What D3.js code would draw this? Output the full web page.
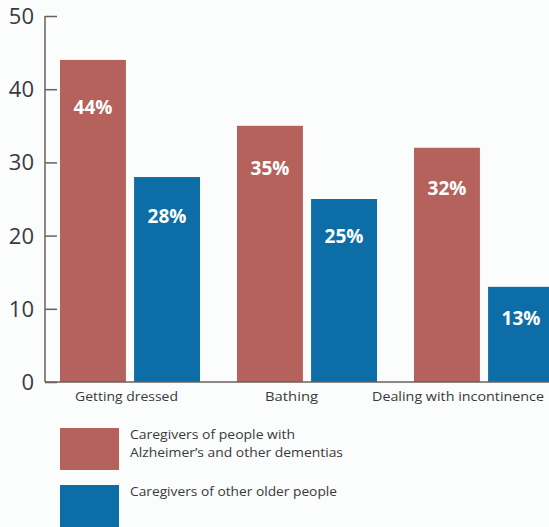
<!DOCTYPE html>
<html>
<head>
<meta charset="utf-8">
<script src="https://cdn.jsdelivr.net/npm/d3@7"></script>
<style>
  html, body { margin: 0; padding: 0; background: #fbfcfc; }
  svg { display: block; }
</style>
</head>
<body>
<script>
// Share of caregivers helping with each activity (%)
const categories = ["Getting dressed", "Bathing", "Dealing with incontinence"];
const dementiaCare = [44, 35, 32];
const otherCare = [28, 25, 13];
const yTicks = [0, 10, 20, 30, 40, 50];
const seriesNames = ["Caregivers of people with|Alzheimer\u2019s and other dementias", "Caregivers of other older people"];
const seriesColors = ["#b4625b", "#0d6ea7"];

const W = 549, H = 527;
const svg = d3.select("body").append("svg").attr("width", W).attr("height", H);
const font = "'Open Sans', 'DejaVu Sans', sans-serif";
const ink = "#3a3a3a";

const axisX = 45;
const y = d3.scaleLinear().domain([0, 50]).range([382, 16]);
const x0 = d3.scaleBand().domain(categories).range([60, 591]);
const x1 = d3.scaleBand().domain([0, 1]).range([0, 140]).paddingInner(0.11);

// y axis, ticks pointing into the plot
const yAxis = d3.axisRight(y).tickValues(yTicks).tickSize(12).tickFormat("");
const ya = svg.append("g").attr("transform", `translate(${axisX},0)`).call(yAxis);
ya.select(".domain").remove();
ya.selectAll(".tick line").attr("stroke", "#6a605b").attr("stroke-width", 1.5);
svg.append("line").attr("x1", axisX).attr("x2", axisX).attr("y1", y(50)).attr("y2", y(0))
  .attr("stroke", "#6a605b").attr("stroke-width", 1.5);

svg.append("g").selectAll("text").data(yTicks).join("text")
  .attr("x", 34).attr("y", d => y(d)).attr("dy", "0.36em")
  .attr("text-anchor", "end").attr("font-family", font).attr("font-size", 22)
  .attr("fill", ink).text(d => d);

// bars
const rows = categories.map((c, i) => ({ c, vals: [dementiaCare[i], otherCare[i]] }));
const groups = svg.append("g").selectAll("g").data(rows).join("g")
  .attr("transform", d => `translate(${x0(d.c)},0)`);

groups.selectAll("rect").data(d => d.vals.map((v, k) => ({ v, k }))).join("rect")
  .attr("x", d => x1(d.k)).attr("width", x1.bandwidth())
  .attr("y", d => y(d.v)).attr("height", d => y(0) - y(d.v))
  .attr("fill", d => seriesColors[d.k]);

// value labels inside the bar tops; taller bars carry the label a little lower
groups.selectAll("text.val").data(d => d.vals.map((v, k) => ({ v, k }))).join("text")
  .attr("class", "val")
  .attr("x", d => x1(d.k) + x1.bandwidth() / 2)
  .attr("y", d => y(d.v) + 25 + d.v * 0.5).attr("dy", "0.35em")
  .attr("text-anchor", "middle").attr("font-family", font).attr("font-weight", "bold")
  .attr("font-size", 19).attr("fill", "#ffffff").text(d => d.v + "%");

// baseline
svg.append("line").attr("x1", axisX).attr("x2", W).attr("y1", y(0)).attr("y2", y(0))
  .attr("stroke", "#6a605b").attr("stroke-width", 1.5);

// category labels
const catLabelX = [75, 265, 372];
const catLabelW = [103, 53, 172];
svg.append("g").selectAll("text").data(categories).join("text")
  .attr("x", (c, i) => catLabelX[i]).attr("y", 401)
  .attr("textLength", (c, i) => catLabelW[i]).attr("lengthAdjust", "spacingAndGlyphs")
  .attr("font-family", font).attr("font-size", 13)
  .attr("fill", ink).text(c => c);

// legend
const legY = [428, 485];
const legLineW = [[165, 213], [207]];
const leg = svg.append("g").selectAll("g").data(seriesNames).join("g")
  .attr("transform", (d, i) => `translate(60,${legY[i]})`);
leg.append("rect").attr("width", 59).attr("height", 42).attr("fill", (d, i) => seriesColors[i]);
leg.each(function (d, i) {
  d3.select(this).selectAll("text").data(d.split("|")).join("text")
    .attr("x", 70).attr("y", (t, j) => 11 + j * 18)
    .attr("textLength", (t, j) => legLineW[i][j]).attr("lengthAdjust", "spacingAndGlyphs")
    .attr("font-family", font).attr("font-size", 12.5).attr("fill", ink)
    .text(t => t);
});
</script>
</body>
</html>
